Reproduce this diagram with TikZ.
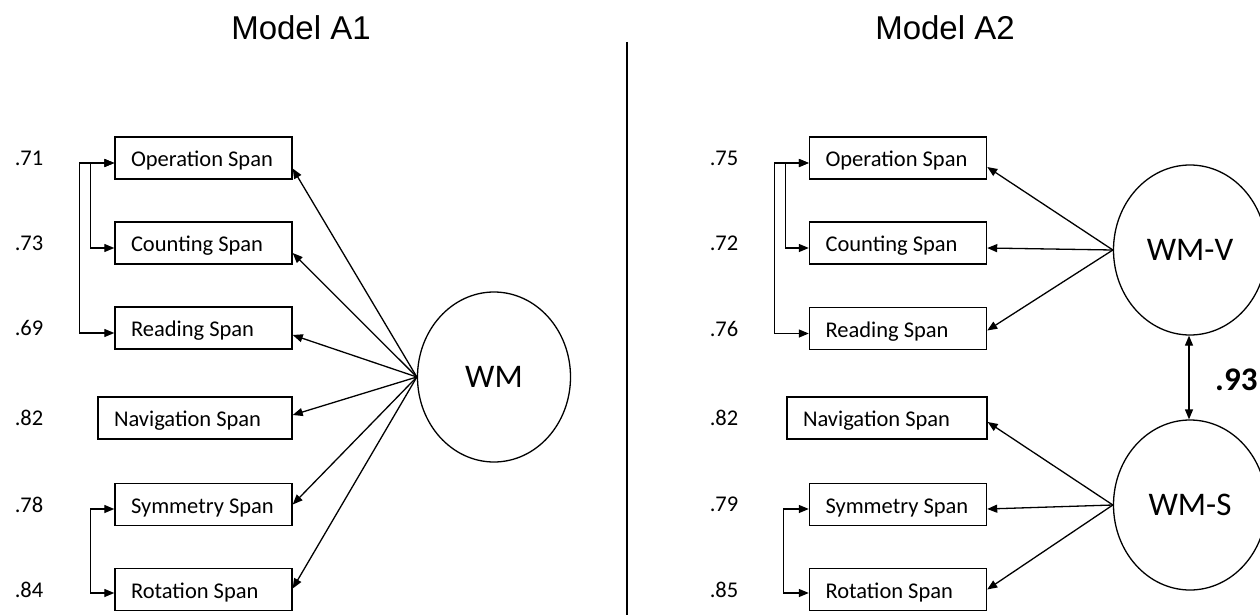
\documentclass[tikz,border=0pt]{standalone}
\usepackage{fontspec}
\setmainfont{Carlito}
\newfontfamily\titlefont{Liberation Sans}
\usetikzlibrary{shapes.geometric,arrows.meta,calc}
\newcommand{\bxl}[2]{\makebox[#1][l]{#2}}
\begin{document}
\begin{tikzpicture}[x=1pt,y=-1pt,
  box/.style={draw, line width=1.4pt, minimum height=42pt, inner xsep=16pt, inner ysep=0pt, text height=17pt, text depth=0pt, font=\fontsize{22.5pt}{27pt}\selectfont},
  num/.style={font=\fontsize{22.5pt}{27pt}\selectfont, inner sep=0pt},
  latent/.style={draw, ellipse, line width=1.3pt, minimum width=153pt, minimum height=170pt, inner sep=0pt, font=\fontsize{33pt}{40pt}\selectfont},
  ttl/.style={font=\titlefont\fontsize{33pt}{40pt}\selectfont, anchor=base, inner sep=0pt},
  arr/.style={line width=1.3pt, -{Triangle[length=10pt,width=8pt]}},
  darr/.style={line width=1.3pt, {Triangle[length=10pt,width=8pt]}-{Triangle[length=10pt,width=8pt]}}]
\useasboundingbox (0,0) rectangle (1260,615);
\fill[white] (0,0) rectangle (1260,615);

% titles and divider
\node[ttl] (tA) at (301,40) {Model A1};
\node[ttl] (tB) at (945,40) {Model A2};
\coordinate (divT) at (627,42);
\coordinate (divB) at (627,615);
\draw[line width=1.2pt] (divT) -- (divB);

% ---------- Model A1 ----------
\node[box] (opL) at (203.5,158) {\bxl{145pt}{Operation Span}};
\node[box] (coL) at (203.5,243) {\bxl{145pt}{Counting Span}};
\node[box] (reL) at (203.5,328) {\bxl{145pt}{Reading Span}};
\node[box] (naL) at (195,418) {\bxl{162pt}{Navigation Span}};
\node[box] (syL) at (203.5,504.5) {\bxl{145pt}{Symmetry Span}};
\node[box] (roL) at (203.5,589.5) {\bxl{145pt}{Rotation Span}};

\node[num] (n1L) at (29,158) {.71};
\node[num] (n2L) at (29,243) {.73};
\node[num] (n3L) at (29,328) {.69};
\node[num] (n4L) at (29,418) {.82};
\node[num] (n5L) at (29,504.5) {.78};
\node[num] (n6L) at (29,589.5) {.84};

\node[latent] (wm) at (494,377) {WM};

\draw[arr] (wm.west) -- ([yshift=-10.5pt]opL.east);
\draw[arr] (wm.west) -- ([yshift=-10pt]coL.east);
\draw[arr] (wm.west) -- ([yshift=-7pt]reL.east);
\draw[arr] (wm.west) -- ([yshift=3pt]naL.east);
\draw[arr] (wm.west) -- ([yshift=0pt]syL.east);
\draw[arr] (wm.west) -- ([yshift=1pt]roL.east);

\draw[darr] ([yshift=-5pt]opL.west) -- ++(-35,0) |- ([yshift=-5pt]reL.west);
\draw[darr] ([yshift=-5pt]opL.west) -- ++(-24,0) |- ([yshift=-5pt]coL.west);
\draw[darr] ([yshift=-4.5pt]syL.west) -- ++(-24,0) |- ([yshift=-3.5pt]roL.west);

% ---------- Model A2 ----------
\node[box] (opR) at (898,158) {\bxl{145pt}{Operation Span}};
\node[box] (coR) at (898,243) {\bxl{145pt}{Counting Span}};
\node[box] (reR) at (898,328.5) {\bxl{145pt}{Reading Span}};
\node[box] (naR) at (887,418) {\bxl{168pt}{Navigation Span}};
\node[box] (syR) at (898,504.5) {\bxl{145pt}{Symmetry Span}};
\node[box] (roR) at (898,589.5) {\bxl{145pt}{Rotation Span}};

\node[num] (n1R) at (724,158) {.75};
\node[num] (n2R) at (724,243) {.72};
\node[num] (n3R) at (724,328.5) {.76};
\node[num] (n4R) at (724,418) {.82};
\node[num] (n5R) at (724,504.5) {.79};
\node[num] (n6R) at (724,589.5) {.85};

\node[latent] (wmv) at (1190,250) {WM-V};
\node[latent] (wms) at (1190,505) {WM-S};

\draw[arr] (wmv.west) -- ([yshift=-9pt]opR.east);
\draw[arr] (wmv.west) -- ([yshift=-5pt]coR.east);
\draw[arr] (wmv.west) -- ([yshift=-2pt]reR.east);
\draw[arr] (wms.west) -- ([yshift=-4pt]naR.east);
\draw[arr] (wms.west) -- ([yshift=-4.5pt]syR.east);
\draw[arr] (wms.west) -- ([yshift=0pt]roR.east);

\draw[darr] ([yshift=-5pt]opR.west) -- ++(-34,0) |- ([yshift=-5pt]reR.west);
\draw[darr] ([yshift=-5pt]opR.west) -- ++(-23,0) |- ([yshift=-5pt]coR.west);
\draw[darr] ([yshift=-4.5pt]syR.west) -- ++(-25,0) |- ([yshift=-3.5pt]roR.west);

\draw[darr] ([xshift=-1pt]wmv.south) -- ([xshift=-1pt]wms.north);
\node[anchor=west, inner sep=0pt, font=\bfseries\fontsize{33pt}{40pt}\selectfont] (r93) at (1215,380) {.93};
\end{tikzpicture}
\end{document}
